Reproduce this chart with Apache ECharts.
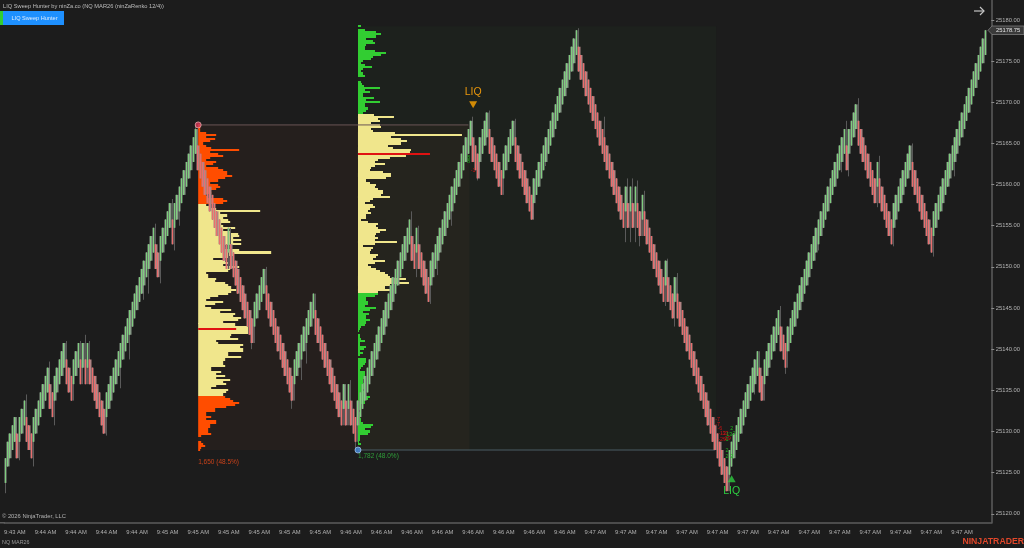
<!DOCTYPE html>
<html>
<head>
<meta charset="utf-8">
<title>LIQ Sweep Hunter</title>
<style>html,body{margin:0;padding:0;background:#1c1c1c}#chart{width:1024px;height:548px}</style>
<script src="https://cdn.jsdelivr.net/npm/echarts@6/dist/echarts.min.js"></script>
</head>
<body>
<div id="chart"></div>
<script>
// ninZaRenko 12/4 closes, one per brick, grouped by swing
const closes = [
25126.75,25128.75,25129.75,25130.75,25131.75,
25126.75,
25131.75,25132.75,25133.75,
25128.75,25127.75,25126.75,
25131.75,25132.75,25133.75,25134.75,25135.75,25136.75,25137.75,
25132.75,25131.75,
25136.75,25137.75,25138.75,25139.75,25140.75,
25135.75,25134.75,25133.75,
25138.75,25139.75,25140.75,
25135.75,
25140.75,
25135.75,
25140.75,
25135.75,25134.75,25133.75,25132.75,25131.75,25130.75,25129.75,
25134.75,25135.75,25136.75,25137.75,25138.75,25139.75,25140.75,25141.75,25142.75,25143.75,25144.75,25145.75,25146.75,25147.75,25148.75,25149.75,25150.75,25151.75,25152.75,25153.75,25154.75,
25149.75,25148.75,
25153.75,25154.75,25155.75,25156.75,25157.75,
25152.75,
25157.75,25158.75,25159.75,25160.75,25161.75,25162.75,25163.75,25164.75,25165.75,25166.75,
25161.75,25160.75,25159.75,25158.75,25157.75,25156.75,25155.75,25154.75,25153.75,25152.75,25151.75,25150.75,25149.75,
25154.75,
25149.75,25148.75,25147.75,25146.75,25145.75,25144.75,25143.75,25142.75,25141.75,25140.75,
25145.75,25146.75,25147.75,25148.75,25149.75,
25144.75,25143.75,25142.75,25141.75,25140.75,25139.75,25138.75,25137.75,25136.75,25135.75,25134.75,25133.75,
25138.75,25139.75,25140.75,25141.75,25142.75,25143.75,25144.75,25145.75,25146.75,
25141.75,25140.75,25139.75,25138.75,25137.75,25136.75,25135.75,25134.75,25133.75,25132.75,25131.75,25130.75,
25135.75,
25130.75,
25135.75,
25130.75,25129.75,25128.75,
25133.75,25134.75,25135.75,25136.75,25137.75,25138.75,25139.75,25140.75,25141.75,25142.75,25143.75,25144.75,25145.75,25146.75,25147.75,25148.75,25149.75,25150.75,25151.75,25152.75,25153.75,25154.75,25155.75,
25150.75,25149.75,
25154.75,
25149.75,25148.75,25147.75,25146.75,25145.75,
25150.75,25151.75,25152.75,25153.75,25154.75,25155.75,25156.75,25157.75,25158.75,25159.75,25160.75,25161.75,25162.75,25163.75,25164.75,25165.75,25166.75,25167.75,
25162.75,25161.75,25160.75,
25165.75,25166.75,25167.75,25168.75,
25163.75,25162.75,25161.75,25160.75,25159.75,25158.75,
25163.75,25164.75,25165.75,25166.75,25167.75,
25162.75,25161.75,25160.75,25159.75,25158.75,25157.75,25156.75,25155.75,
25160.75,25161.75,25162.75,25163.75,25164.75,25165.75,25166.75,25167.75,25168.75,25169.75,25170.75,25171.75,25172.75,25173.75,25174.75,25175.75,25176.75,25177.75,25178.75,
25173.75,25172.75,25171.75,25170.75,25169.75,25168.75,25167.75,25166.75,25165.75,25164.75,25163.75,25162.75,25161.75,25160.75,25159.75,25158.75,25157.75,25156.75,25155.75,25154.75,
25159.75,25154.75,25159.75,25154.75,25159.75,
25154.75,25153.75,
25158.75,
25153.75,25152.75,25151.75,25150.75,25149.75,25148.75,25147.75,25146.75,25145.75,
25150.75,
25145.75,25144.75,25143.75,
25148.75,
25143.75,25142.75,25141.75,25140.75,25139.75,25138.75,25137.75,25136.75,25135.75,25134.75,25133.75,25132.75,25131.75,25130.75,25129.75,25128.75,25127.75,25126.75,25125.75,25124.75,25123.75,25122.75,
25127.75,25128.75,25129.75,25130.75,25131.75,25132.75,25133.75,25134.75,25135.75,25136.75,25137.75,25138.75,25139.75,
25134.75,25133.75,
25138.75,25139.75,25140.75,25141.75,25142.75,25143.75,25144.75,
25139.75,25138.75,25137.75,
25142.75,25143.75,25144.75,25145.75,25146.75,25147.75,25148.75,25149.75,25150.75,25151.75,25152.75,25153.75,25154.75,25155.75,25156.75,25157.75,25158.75,25159.75,25160.75,25161.75,25162.75,25163.75,25164.75,25165.75,25166.75,
25161.75,
25166.75,25167.75,25168.75,25169.75,
25164.75,25163.75,25162.75,25161.75,25160.75,25159.75,25158.75,25157.75,
25162.75,
25157.75,25156.75,25155.75,25154.75,25153.75,25152.75,
25157.75,25158.75,25159.75,25160.75,25161.75,25162.75,25163.75,25164.75,
25159.75,25158.75,25157.75,25156.75,25155.75,25154.75,25153.75,25152.75,25151.75,
25156.75,25157.75,25158.75,25159.75,25160.75,25161.75,25162.75,25163.75,25164.75,25165.75,25166.75,25167.75,25168.75,25169.75,25170.75,25171.75,25172.75,25173.75,25174.75,25175.75,25176.75,25177.75,25178.75
];

// Wicks that reach past the brick body: [brick, price]
const wickHighs = [[9,25134.5],[19,25138.5],[26,25141],[32,25141],[34,25141.75],[36,25141],[64,25155.25],[71,25158.25],[81,25167.25],[111,25150],[147,25136.25],[173,25156.75],[176,25155],[199,25168.25],[206,25169],[217,25168],[244,25179],[255,25168.25],[265,25160.75],[267,25160.75],[269,25160.5],[272,25159.25],[282,25151],[286,25149.25],[330,25145.25],[358,25167.75],[363,25170.5],[372,25163.5],[386,25165]];
const wickLows = [[0,25122.5],[6,25126.5],[12,25125.75],[21,25130.75],[43,25129.5],[49,25135.25],[53,25138.75],[59,25146],[61,25146.75],[66,25148],[72,25152],[74,25155],[105,25140],[122,25132.75],[126,25136.25],[128,25138.25],[149,25127.75],[175,25148.75],[181,25145.5],[184,25149],[190,25155],[201,25160.5],[230,25162.25],[264,25153],[266,25153],[268,25153],[270,25152.5],[281,25145.25],[285,25142.75],[319,25134.5],[332,25137],[346,25152],[356,25161.5],[359,25161],[371,25157.25],[378,25152.5],[395,25151.25],[404,25161]];

const tickTimes = ['9:43 AM','9:44 AM','9:44 AM','9:44 AM','9:44 AM','9:45 AM','9:45 AM','9:45 AM','9:45 AM','9:45 AM','9:45 AM','9:46 AM','9:46 AM','9:46 AM','9:46 AM','9:46 AM','9:46 AM','9:46 AM','9:46 AM','9:47 AM','9:47 AM','9:47 AM','9:47 AM','9:47 AM','9:47 AM','9:47 AM','9:47 AM','9:47 AM','9:47 AM','9:47 AM','9:47 AM','9:47 AM'];
const priceTicks = [25120,25125,25130,25135,25140,25145,25150,25155,25160,25165,25170,25175,25180];

// Volume profile of the down sweep, rows a quarter point apart, top to bottom
const sweepDownTopPrice = 25167.25;
const sweepDownUpper = [2,2,2,2,8,18,8,17,12,5,8,13,41,12,20,25,12,8,18,15,8,20,25,29,29,34,27,20,12,20,22,18,12,13,8,10,25,29,25];
const sweepDownValue = [8,12,18,62,22,29,25,30,32,23,25,37,25,32,40,41,35,43,35,43,25,27,41,73,35,30,15,27,30,25,41,32,30,8,10,10,18,17,27,30,33,38,33,30,20,12,8,25,17,7,13,33,22,37,35,43,40,25,37,50,50,50,50,33,32,40,18,20,45,42,45,45,30,30,43,27,25,25,27,13,13,23,18,27,18,32,25,28,18,13,30,28,25];
const sweepDownLower = [27,32,35,41,37,28,17,17,8,8,13,8,18,18,12,12,10,10,13,3,0,0,3,5,7,3,2];

// Volume profile of the up sweep
const sweepUpTopPrice = 25179.25;
const sweepUpUpper = [3,0,7,18,23,18,8,15,17,8,7,7,17,28,23,15,13,5,3,7,14,5,3,5,7,0,0,3,4,6,22,7,12,5,5,16,8,22,7,7,10,8,5];
const sweepUpValue = [16,36,20,22,13,22,23,13,15,37,104,33,43,49,43,30,35,53,52,50,48,32,20,17,27,17,13,12,25,33,33,28,8,12,18,17,20,25,25,23,32,15,12,7,15,17,12,10,13,8,8,3,10,20,18,20,28,22,18,17,20,17,39,17,5,15,13,12,20,18,15,27,17,10,13,18,22,27,30,32,48,40,51,32,27,32,20];
const sweepUpLower = [20,17,8,8,10,10,7,18,12,5,11,8,8,12,8,7,3,2,1,0,2,2,3,7,2,2,8,6,2,5,2,0,8,8,7,5,3,2,7,7,7,7,5,5,8,8,7,5,7,7,12,10,7,7,3,2,2,0,2,2,2,3,3,5,15,13,7,12,10,2,2,2,1,3];

// Points of control: [first brick, price, volume]
const pocRows = [[82,25142.5,38],[150,25163.75,72]];

// Sweep zones: [first brick, last brick, top price, bottom price]
const zoneDown = [82,197,25167.25,25127.75];
const zoneUp = [150,302,25179.25,25127.75];

// Sweep extremes
const sweepHigh = [82,25167.25];
const sweepLow = [150,25127.75];

// Free text anchored to bar and price: [brick, price, text]
const downVolumeLabel = [82,25126.25,'1,650 (48.5%)'];
const upVolumeLabel = [150,25127,'1,782 (48.0%)'];
const liqHighArrow = [199,25169.7];
const liqLowArrow = [309,25124.25];
const liqHighLabel = [199,25171.2,'LIQ'];
const liqLowLabel = [309,25122.8,'LIQ'];
const negativeDeltas = [[303,25131.5,'-7'],[303,25130.8,'-7'],[304,25130.4,'-6'],[305,25129.8,'-13'],[306,25129.7,'-13'],[305,25129,'-29'],[307,25129.1,'-29'],[199,25161.7,'-1']];
const positiveDeltas = [[309,25130.4,'2'],[310,25129.8,'2'],[308,25129.6,'13'],[307,25129,'1'],[307,25127.7,'2'],[307,25126.9,'2'],[309,25126.9,'2'],[197,25163.3,'8'],[197,25162.8,'8']];

const UP_BODY = '#7fce7f', DOWN_BODY = '#ea6e6e';
const UP_EDGE = '#869886', DOWN_EDGE = '#b08484';
const YELLOW = '#f0e68c', ORANGE = '#ff4d00', GREEN = '#32cd32', POC_RED = '#e01212';
const BRICK = 3;

const blanks = 2;
const categories = closes.map((_, i) => tickTimes[Math.min(tickTimes.length - 1, Math.floor(Math.max(i - 4, 0) / 13))]);
for (let k = 0; k < blanks; k++) categories.push('');

const highMap = new Map(wickHighs), lowMap = new Map(wickLows);
const ups = closes.map((c, i) => i === 0 || c > closes[i - 1]);
const opens = closes.map((c, i) => ups[i] ? c - BRICK : c + BRICK);
const brickData = closes.map((c, i) => [opens[i], c, Math.min(opens[i], c), Math.max(opens[i], c)]);
const wickData = closes.map((c, i) => {
  let hi = Math.max(opens[i], c), lo = Math.min(opens[i], c);
  if (i > 0 && ups[i] !== ups[i - 1]) { hi = Math.max(hi, closes[i - 1]); lo = Math.min(lo, closes[i - 1]); }
  if (highMap.has(i)) hi = highMap.get(i);
  if (lowMap.has(i)) lo = lowMap.get(i);
  return [opens[i], c, lo, hi];
});

function profileRows(start, topPrice, upper, value, lower, edgeColor) {
  const rows = [];
  let k = 0;
  upper.forEach(v => { rows.push([start, topPrice - 0.25 * k++, v, edgeColor]); });
  value.forEach(v => { rows.push([start, topPrice - 0.25 * k++, v, YELLOW]); });
  lower.forEach(v => { rows.push([start, topPrice - 0.25 * k++, v, edgeColor]); });
  return rows;
}
const profileData = profileRows(82, sweepDownTopPrice, sweepDownUpper, sweepDownValue, sweepDownLower, ORANGE)
  .concat(profileRows(150, sweepUpTopPrice, sweepUpUpper, sweepUpValue, sweepUpLower, GREEN));

function renderRow(params, api) {
  const p = api.coord([api.value(0), api.value(1)]);
  const top = Math.round(p[1] - 1);
  const bottom = Math.round(p[1] + 1.06);
  return { type: 'rect', shape: { x: p[0], y: top, width: api.value(2), height: Math.max(1, bottom - top) },
           style: { fill: params.seriesName === 'POC' ? POC_RED : profileData[params.dataIndex][3] } };
}

function zoneRender(color) {
  return (params, api) => {
    const a = api.coord([api.value(0), api.value(2)]);
    const b = api.coord([api.value(1), api.value(3)]);
    return { type: 'rect', shape: { x: a[0], y: a[1], width: b[0] - a[0] + 1, height: b[1] - a[1] }, style: { fill: color } };
  };
}

function lineRender(color) {
  return (params, api) => {
    const a = api.coord([api.value(0), api.value(2)]);
    const b = api.coord([api.value(1), api.value(2)]);
    return { type: 'line', shape: { x1: a[0], y1: a[1], x2: b[0], y2: b[1] }, style: { stroke: color, lineWidth: 1 } };
  };
}

function textSeries(name, rows, fill, size, align, weight) {
  return {
    name, type: 'custom', z: 8, silent: true, clip: false,
    encode: { x: 0, y: 1 }, data: rows,
    renderItem: (params, api) => {
      const p = api.coord([api.value(0), api.value(1)]);
      return { type: 'text', x: p[0], y: p[1],
        style: { text: rows[params.dataIndex][2], fill, align, verticalAlign: 'middle',
                 font: (weight || 'normal') + ' ' + size + 'px "Liberation Sans", Arial, sans-serif' } };
    }
  };
}

const FONT = '"Liberation Sans", Arial, sans-serif';
const lastClose = closes[closes.length - 1];

const chart = echarts.init(document.getElementById('chart'), null, { renderer: 'canvas' });
chart.setOption({
  animation: false,
  backgroundColor: '#1c1c1c',
  grid: { left: 4.3, top: 0, width: 987, height: 523, containLabel: false },
  xAxis: {
    type: 'category', data: categories, boundaryGap: true,
    axisLine: { lineStyle: { color: '#5c5c5c', width: 1.5 } },
    axisTick: { alignWithLabel: true, length: 2.5, lineStyle: { color: '#777' }, interval: (i) => (i - 4) % 13 === 0 && i < closes.length },
    axisLabel: { color: '#b0b0b0', fontSize: 5.8, fontFamily: FONT, margin: 6, interval: (i) => (i - 4) % 13 === 0 && i < closes.length, hideOverlap: false },
    splitLine: { show: false }
  },
  yAxis: {
    type: 'value', position: 'right', min: 25118.88, max: 25182.43, scale: true,
    axisLine: { show: true, lineStyle: { color: '#5c5c5c', width: 1.5 } },
    axisTick: { show: true, length: 3, lineStyle: { color: '#8a8a8a' }, customValues: priceTicks },
    axisLabel: { color: '#b4b4b4', fontSize: 5.8, fontFamily: FONT, margin: 4.5, customValues: priceTicks, formatter: v => v.toFixed(2) },
    splitLine: { show: false }
  },
  series: [
    { name: 'Down zone', type: 'custom', z: 1, silent: true, encode: { x: 0, y: 2 }, data: [zoneDown], renderItem: zoneRender('rgba(255,120,80,0.045)') },
    { name: 'Up zone', type: 'custom', z: 1, silent: true, encode: { x: 0, y: 2 }, data: [zoneUp], renderItem: zoneRender('rgba(50,205,50,0.03)') },
    { name: 'Profile', type: 'custom', z: 2, silent: true, encode: { x: 0, y: 1 }, data: profileData, renderItem: renderRow },
    { name: 'POC', type: 'custom', z: 3, silent: true, encode: { x: 0, y: 1 }, data: pocRows, renderItem: renderRow },
    { name: 'Sweep high', type: 'custom', z: 3, silent: true, encode: { x: 0, y: 2 }, data: [[zoneDown[0], zoneDown[1], zoneDown[2]]], renderItem: lineRender('#6a5656') },
    { name: 'Sweep low', type: 'custom', z: 3, silent: true, encode: { x: 0, y: 2 }, data: [[zoneUp[0], zoneUp[1], zoneUp[3]]], renderItem: lineRender('#4a5c64') },
    { name: 'Wicks', type: 'candlestick', z: 4, silent: true, barWidth: 1, data: wickData,
      itemStyle: { color: 'transparent', color0: 'transparent', borderColor: '#5a5a5a', borderColor0: '#5a5a5a', borderWidth: 1 } },
    { name: 'Brick edges', type: 'candlestick', z: 5, silent: true, barWidth: 3, data: brickData,
      itemStyle: { color: UP_EDGE, color0: DOWN_EDGE, borderWidth: 0 } },
    { name: 'Bricks', type: 'candlestick', z: 6, silent: true, barWidth: 1, data: brickData,
      itemStyle: { color: UP_BODY, color0: DOWN_BODY, borderColor: UP_BODY, borderColor0: DOWN_BODY, borderWidth: 1 } },
    { name: 'High point', type: 'scatter', z: 7, silent: true, symbol: 'circle', symbolSize: 6, data: [sweepHigh],
      itemStyle: { color: '#d8385a', borderColor: '#e8a8a8', borderWidth: 1 } },
    { name: 'Low point', type: 'scatter', z: 7, silent: true, symbol: 'circle', symbolSize: 6, data: [sweepLow],
      itemStyle: { color: '#4a90e2', borderColor: '#9cc0e8', borderWidth: 1 } },
    { name: 'LIQ high', type: 'scatter', z: 7, silent: true, symbol: 'triangle', symbolRotate: 180, symbolSize: [8, 7], data: [liqHighArrow], itemStyle: { color: '#ffa500' } },
    { name: 'LIQ low', type: 'scatter', z: 7, silent: true, symbol: 'triangle', symbolSize: [8, 7], data: [liqLowArrow], itemStyle: { color: '#2ecc40' } },
    textSeries('LIQ high text', [liqHighLabel], '#e8960c', 10.5, 'center'),
    textSeries('LIQ low text', [liqLowLabel], '#2ecc40', 10.5, 'center'),
    textSeries('Down volume', [downVolumeLabel], '#c8421a', 6.5, 'left'),
    textSeries('Up volume', [upVolumeLabel], '#2f9e3a', 6.5, 'left'),
    textSeries('Negative delta', negativeDeltas, '#c81414', 5.4, 'center'),
    textSeries('Positive delta', positiveDeltas, '#20b020', 5.4, 'center')
  ],
  graphic: [
    { type: 'rect', z: 10, shape: { x: 0, y: 522, width: 5, height: 1.5 }, style: { fill: '#5c5c5c' } },
    { type: 'text', z: 10, x: 3, y: 6, style: { text: 'LIQ Sweep Hunter by ninZa.co (NQ MAR26 (ninZaRenko 12/4))', fill: '#bdbdbd', font: '5.7px ' + FONT, verticalAlign: 'middle' } },
    { type: 'rect', z: 10, shape: { x: 0, y: 11, width: 3, height: 14 }, style: { fill: '#32cd32' } },
    { type: 'rect', z: 10, shape: { x: 3, y: 11, width: 61, height: 14 }, style: { fill: '#1e90ff' } },
    { type: 'text', z: 11, x: 34.5, y: 18, style: { text: 'LIQ Sweep Hunter', fill: '#dcecff', font: '5.6px ' + FONT, align: 'center', verticalAlign: 'middle' } },
    { type: 'text', z: 10, x: 2, y: 516, style: { text: '\u00A9 2026 NinjaTrader, LLC', fill: '#b4b4b4', font: '5.8px ' + FONT, verticalAlign: 'middle' } },
    { type: 'text', z: 10, x: 2, y: 543, style: { text: 'NQ MAR26', fill: '#9a9a9a', font: '5.4px ' + FONT, verticalAlign: 'middle' } },
    { type: 'text', z: 10, x: 1024, y: 541.5, style: { text: 'NINJATRADER', fill: '#e2472a', font: 'bold 8.7px ' + FONT, align: 'right', verticalAlign: 'middle' } },
    { type: 'polyline', z: 10, shape: { points: [[974, 11], [984, 11]] }, style: { stroke: '#c4c4c4', lineWidth: 1.2, fill: null } },
    { type: 'polyline', z: 10, shape: { points: [[980, 7], [984, 11], [980, 15]] }, style: { stroke: '#c4c4c4', lineWidth: 1.2, fill: null } },
    { type: 'polygon', z: 10, shape: { points: [[988, 30.3], [992, 26], [1024, 26], [1024, 34.5], [992, 34.5]] }, style: { fill: '#3a3a3a', stroke: '#7c7c7c', lineWidth: 0.8 } },
    { type: 'text', z: 11, x: 996, y: 30.3, style: { text: lastClose.toFixed(2), fill: '#e4e4e4', font: '5.8px ' + FONT, verticalAlign: 'middle' } }
  ]
});
</script>
</body>
</html>
